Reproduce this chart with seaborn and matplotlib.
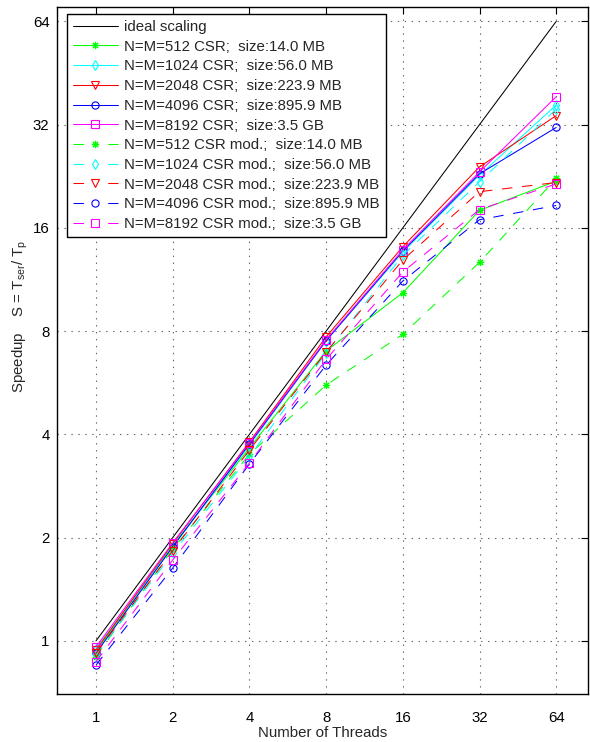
import matplotlib
matplotlib.use("Agg")
import matplotlib.pyplot as plt
from matplotlib.lines import Line2D
import seaborn as sns
import numpy as np

threads = [1, 2, 4, 8, 16, 32, 64]
tick_labels = ["1", "2", "4", "8", "16", "32", "64"]
ideal = [1, 2, 4, 8, 16, 32, 64]

labels_csr = [
    "N=M=512 CSR;  size:14.0 MB",
    "N=M=1024 CSR;  size:56.0 MB",
    "N=M=2048 CSR;  size:223.9 MB",
    "N=M=4096 CSR;  size:895.9 MB",
    "N=M=8192 CSR;  size:3.5 GB",
]
labels_mod = [
    "N=M=512 CSR mod.;  size:14.0 MB",
    "N=M=1024 CSR mod.;  size:56.0 MB",
    "N=M=2048 CSR mod.;  size:223.9 MB",
    "N=M=4096 CSR mod.;  size:895.9 MB",
    "N=M=8192 CSR mod.;  size:3.5 GB",
]

csr_512 = [0.93, 1.90, 3.65, 7.00, 10.35, 18.0, 21.9]
csr_1024 = [0.95, 1.88, 3.72, 7.50, 13.6, 22.8, 36.5]
csr_2048 = [0.94, 1.92, 3.80, 7.70, 14.1, 24.1, 34.0]
csr_4096 = [0.92, 1.88, 3.75, 7.50, 13.7, 23.0, 31.4]
csr_8192 = [0.96, 1.93, 3.78, 7.55, 13.8, 23.3, 38.6]

mod_512 = [0.90, 1.85, 3.50, 5.57, 7.83, 12.7, 22.3]
mod_1024 = [0.91, 1.80, 3.45, 6.90, 13.3, 21.8, 35.5]
mod_2048 = [0.92, 1.83, 3.60, 6.95, 12.9, 20.4, 21.7]
mod_4096 = [0.85, 1.63, 3.28, 6.37, 11.2, 16.9, 18.6]
mod_8192 = [0.87, 1.72, 3.30, 6.62, 11.9, 18.1, 21.5]

colors = ["#00ff00", "#00ffff", "#ff0000", "#0000ff", "#ff00ff"]
markers = [(8, 2, 0), "d", "v", "o", "s"]

sns.set_style("white")
plt.rcParams["font.family"] = ["Liberation Sans", "DejaVu Sans"]
plt.rcParams["mathtext.fontset"] = "custom"
plt.rcParams["mathtext.rm"] = "Liberation Sans"
plt.rcParams["mathtext.it"] = "Liberation Sans"
plt.rcParams["lines.scale_dashes"] = False

fig = plt.figure(figsize=(5.9, 7.42), dpi=100)
ax = fig.add_axes([56.5 / 590, 48 / 742, (588 - 56.5) / 590, (742 - 48 - 7) / 742])

lw = 0.75
ms = 5.2
dash_plot = (0, (7.5, 7))
dash_leg = (0, (7.5, 17.5))

handles = [Line2D([], [], color="black", lw=lw)]
sns.lineplot(x=threads, y=ideal, color="black", lw=lw, ax=ax)

csr_data = [csr_512, csr_1024, csr_2048, csr_4096, csr_8192]
mod_data = [mod_512, mod_1024, mod_2048, mod_4096, mod_8192]

for vals, c, m in zip(csr_data, colors, markers):
    sns.lineplot(x=threads, y=vals, color=c, lw=lw, marker=m, markersize=ms,
                 markeredgecolor=c, markerfacecolor="none", markeredgewidth=0.8,
                 ax=ax)
    handles.append(Line2D([], [], color=c, lw=lw, marker=m, markersize=ms,
                          markeredgecolor=c, markerfacecolor="none",
                          markeredgewidth=0.8))
for vals, c, m in zip(mod_data, colors, markers):
    sns.lineplot(x=threads, y=vals, color=c, lw=lw, marker=m, markersize=ms,
                 markeredgecolor=c, markerfacecolor="none", markeredgewidth=0.8,
                 linestyle=dash_plot, ax=ax)
    handles.append(Line2D([], [], color=c, lw=lw, marker=m, markersize=ms,
                          markeredgecolor=c, markerfacecolor="none",
                          markeredgewidth=0.8, linestyle=dash_leg))

ax.set_xscale("log", base=2)
ax.set_yscale("log", base=2)
ax.set_xlim(0.70, 85.3)
ax.set_ylim(0.70, 70.5)
ax.set_xticks(threads)
ax.set_xticklabels(tick_labels)
ax.set_yticks(ideal)
ax.set_yticklabels(tick_labels)
ax.minorticks_off()

ax.grid(True, which="major", color="#666666", linestyle=(0, (1, 4)), linewidth=0.8)
for s in ax.spines.values():
    s.set_color("black")
    s.set_linewidth(1.0)
ax.tick_params(direction="in", length=5, width=0.8, top=True, right=True,
               labelsize=10.8, colors="black")
ax.tick_params(axis="x", pad=12)
ax.tick_params(axis="y", pad=5)

ax.set_xlabel("Number of Threads", fontsize=10.8, labelpad=1)
ax.set_ylabel(r"Speedup    S = T$_\mathregular{ser}$/ T$_\mathregular{p}$", fontsize=10.8)
ax.yaxis.set_label_coords(-0.05, 0.55)

all_labels = ["ideal scaling"] + labels_csr + labels_mod
leg = ax.legend(handles, all_labels, loc="upper left",
                bbox_to_anchor=(66.7 / 590, 1 - 14 / 742),
                bbox_transform=fig.transFigure, borderaxespad=0, fancybox=False,
                framealpha=1, edgecolor="black", fontsize=10.8, handlelength=3.0,
                handletextpad=0.45, labelspacing=0.38, borderpad=0.4, numpoints=1)
leg.get_frame().set_linewidth(1.0)

fig.savefig("out.png", dpi=100, facecolor="white")
